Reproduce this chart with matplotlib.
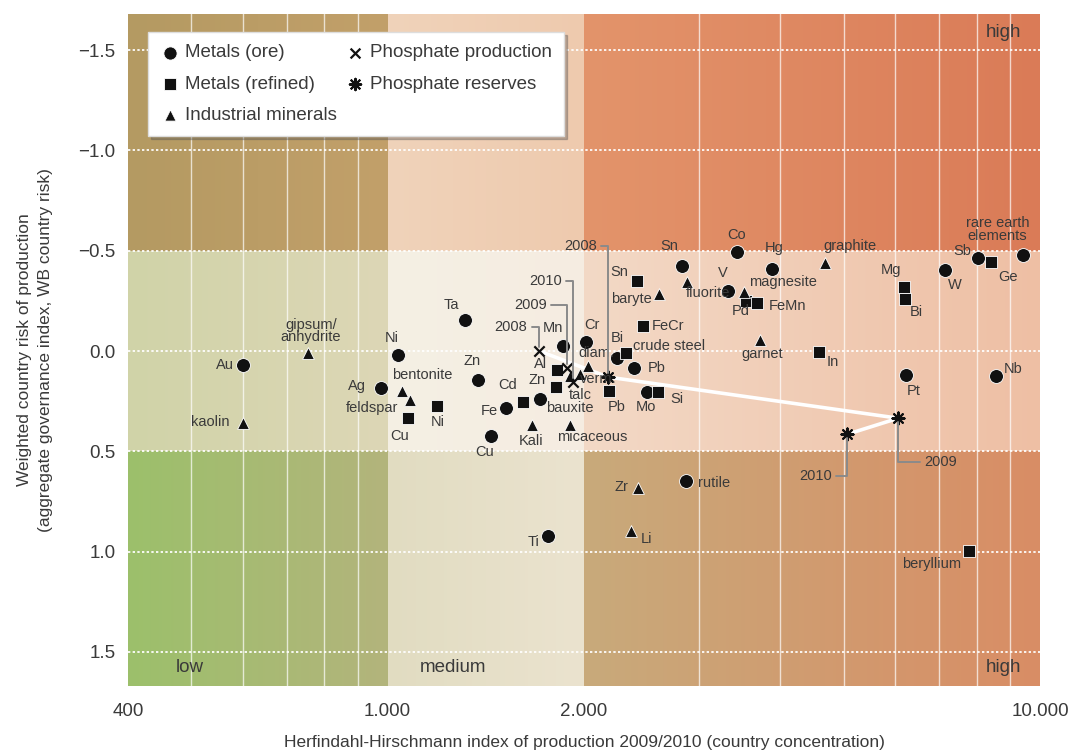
import numpy as np
import matplotlib
matplotlib.use("Agg")
import matplotlib.pyplot as plt
from matplotlib.ticker import NullLocator

plt.rcParams['font.family'] = ['Liberation Sans', 'DejaVu Sans']

# ---- data ----
ore_names = ["Au", "Ni", "Ag", "Ta", "Zn", "Fe", "Cu", "bauxite", "Mn", "Cr", "Bi", "Pb",
             "Mo", "Sn", "Co", "Hg", "V", "Sb", "W", "rare earth\nelements", "Pt", "Nb",
             "rutile", "Ti"]
ore_hhi = [600, 1038, 977, 1315, 1376, 1519, 1441, 1713, 1858, 2015, 2248, 2388,
           2500, 2828, 3434, 3886, 3327, 8043, 7159, 9426, 6237, 8568, 2868, 1762]
ore_risk = [0.07, 0.02, 0.185, -0.155, 0.145, 0.285, 0.425, 0.24, -0.025, -0.045, 0.035, 0.085,
            0.205, -0.425, -0.495, -0.41, -0.30, -0.465, -0.405, -0.48, 0.12, 0.125, 0.65, 0.92]

ref_names = ["Cu", "Ni", "Cd", "Zn", "Al", "Sn", "FeCr", "crude steel", "Pb", "Si", "Pd",
             "FeMn", "In", "Mg", "Bi", "Ge", "beryllium"]
ref_hhi = [1075, 1191, 1613, 1813, 1819, 2413, 2465, 2320, 2186, 2598, 3545,
           3686, 4587, 6193, 6215, 8419, 7789]
ref_risk = [0.335, 0.275, 0.255, 0.18, 0.095, -0.35, -0.125, 0.01, 0.20, 0.205, -0.25,
            -0.24, 0.005, -0.32, -0.26, -0.445, 0.995]

ind_names = ["kaolin", "gipsum/\nanhydrite", "bentonite", "feldspar", "diam.", "verm.", "talc",
             "Kali", "micaceous", "baryte", "fluorite", "magnesite", "graphite", "garnet",
             "Zr", "Li"]
ind_hhi = [600, 755, 1052, 1082, 2030, 1973, 1905, 1665, 1905, 2608, 2879, 3521, 4686, 3725,
           2421, 2362]
ind_risk = [0.36, 0.01, 0.20, 0.245, 0.075, 0.115, 0.125, 0.37, 0.37, -0.285, -0.345, -0.295,
            -0.44, -0.055, 0.685, 0.895]

phos_years = ["2008", "2009", "2010"]
prod_hhi = [1707, 1885, 1925]
prod_risk = [0.0, 0.085, 0.155]
res_hhi = [2178, 6063, 5064]
res_risk = [0.13, 0.335, 0.415]

# ---- label placement (offset pixels from the marker) ----
ore_offsets = [(-18, 0), (-6, 17), (-24, 2), (-14, 15), (-6, 19), (-17, -3), (-6, -16), (30, -9),
               (-10, 18), (6, 17), (0, 20), (22, 0), (-1, -15), (-13, 20), (-1, 17), (2, 21),
               (-5, 18), (-16, 7), (10, -15), (-26, 25), (7, -16), (17, 7), (28, -2), (-15, -6)]
ref_offsets = [(-8, -18), (1, -16), (-15, 17), (-19, 7), (-17, 6), (-18, 9), (25, 0), (43, 7),
               (7, -16), (19, -7), (-5, -10), (30, -3), (14, -10), (-13, 17), (11, -13),
               (17, -15), (-38, -13)]
ind_offsets = [(-33, 1), (3, 22), (20, 16), (-38, -8), (8, 13), (18, -5), (10, -19), (-1, -16),
               (22, -12), (-28, -5), (21, -11), (39, 10), (25, 17), (2, -14), (-17, 1), (15, -8)]
prod_offsets = [(-28, 24), (-37, 63), (-28, 101)]
res_offsets = [(-28, 131), (42, -44), (-32, -42)]

x_lo, x_hi = 400, 10000
y_top, y_bot = -1.68, 1.67

# zone colours, left edge -> right edge of each zone  (rows: high risk, mid, low risk)
zone_cols = [
    [("#b49a62", "#c2a06a"), ("#f0d3ba", "#eecaae"), ("#e3946b", "#da7b57")],
    [("#d0d3a8", "#ddd7b6"), ("#f4f0e4", "#f6ece1"), ("#f3d9c6", "#eebfa4")],
    [("#9cc06b", "#b3b47c"), ("#e1dcc1", "#ebe3cf"), ("#c8aa7b", "#d98d65")],
]


def hex2rgb(h):
    return np.array([int(h[i:i + 2], 16) for i in (1, 3, 5)]) / 255.0


def background():
    W, H = 912, 672
    lg = np.log10
    u = (np.arange(W) + 0.5) / W
    yv = y_top + (np.arange(H) + 0.5) / H * (y_bot - y_top)
    ub = [0, (lg(1000) - lg(x_lo)) / (lg(x_hi) - lg(x_lo)),
          (lg(2000) - lg(x_lo)) / (lg(x_hi) - lg(x_lo)), 1]
    img = np.zeros((H, W, 3))
    for r in range(3):
        rows = (yv < -0.5) if r == 0 else ((yv >= -0.5) & (yv <= 0.5) if r == 1 else (yv > 0.5))
        for c in range(3):
            cols = (u >= ub[c]) & (u < ub[c + 1]) if c < 2 else (u >= ub[c])
            t = (u[cols] - ub[c]) / (ub[c + 1] - ub[c])
            a, b = hex2rgb(zone_cols[r][c][0]), hex2rgb(zone_cols[r][c][1])
            strip = a[None, :] * (1 - t[:, None]) + b[None, :] * t[:, None]
            img[np.ix_(rows, cols)] = strip[None, :, :]
    return img


fig = plt.figure(figsize=(10.72, 7.55), dpi=100)
ax = fig.add_axes([128 / 1072, 69 / 755, 912 / 1072, 672 / 755])
ax.set_xscale('log')
ax.set_xlim(x_lo, x_hi)
ax.set_ylim(y_bot, y_top)

ax.imshow(background(), extent=[0, 1, 0, 1], transform=ax.transAxes, aspect='auto',
          zorder=0, interpolation='bilinear')

for v in [500, 600, 700, 800, 900, 3000, 4000, 5000, 6000, 7000, 8000, 9000]:
    ax.axvline(v, color='white', lw=1.0, alpha=0.7, zorder=1)
for v in [-1.5, -1.0, -0.5, 0.0, 0.5, 1.0, 1.5]:
    ax.axhline(v, color='white', lw=1.4, ls=(0, (1.2, 1.2)), alpha=0.9, zorder=1)

txt = '#3a3a3a'
# phosphate trajectory
ax.plot([prod_hhi[0]] + res_hhi, [prod_risk[0]] + res_risk, color='white', lw=2.6,
        zorder=2, solid_capstyle='round')

ax.scatter(ore_hhi, ore_risk, marker='o', s=100, c='#111111', edgecolors='white',
           linewidths=0.6, zorder=4, label='Metals (ore)')
ax.scatter(ref_hhi, ref_risk, marker='s', s=76, c='#111111', edgecolors='white',
           linewidths=0.6, zorder=4, label='Metals (refined)')
ax.scatter(ind_hhi, ind_risk, marker='^', s=72, c='#111111', edgecolors='white',
           linewidths=0.6, zorder=4, label='Industrial minerals')
ax.scatter(prod_hhi, prod_risk, marker='x', s=55, c='#111111', linewidths=1.6, zorder=5,
           label='Phosphate production')
ax.scatter(res_hhi, res_risk, marker=(8, 2, 0), s=75, c='#111111', linewidths=1.5, zorder=5,
           label='Phosphate reserves')

for names, xs, ys, offs in [(ore_names, ore_hhi, ore_risk, ore_offsets),
                            (ref_names, ref_hhi, ref_risk, ref_offsets),
                            (ind_names, ind_hhi, ind_risk, ind_offsets)]:
    for n, xv, yv, (dx, dy) in zip(names, xs, ys, offs):
        ax.annotate(n, (xv, yv), xytext=(dx, dy), textcoords='offset pixels', ha='center',
                    va='center', fontsize=10.5, color=txt, zorder=6, linespacing=0.9)

for xs, ys, offs in [(prod_hhi, prod_risk, prod_offsets), (res_hhi, res_risk, res_offsets)]:
    for yr, xv, yv, (dx, dy) in zip(phos_years, xs, ys, offs):
        ax.annotate(yr, (xv, yv), xytext=(dx, dy), textcoords='offset pixels', ha='center',
                    va='center', fontsize=10.5, color=txt, zorder=6,
                    arrowprops=dict(arrowstyle='-', color='#8a8a8a', lw=1.4, shrinkA=1, shrinkB=3,
                                    connectionstyle='angle,angleA=0,angleB=90,rad=0'))

ax.text(0.068, 0.027, 'low', transform=ax.transAxes, ha='center', va='center', fontsize=13.5, color=txt)
ax.text(0.356, 0.027, 'medium', transform=ax.transAxes, ha='center', va='center', fontsize=13.5, color=txt)
ax.text(0.960, 0.027, 'high', transform=ax.transAxes, ha='center', va='center', fontsize=13.5, color=txt)
ax.text(0.960, 0.973, 'high', transform=ax.transAxes, ha='center', va='center', fontsize=13.5, color=txt)

ax.set_xticks([400, 1000, 2000, 10000])
ax.set_xticklabels(['400', '1.000', '2.000', '10.000'])
ax.xaxis.set_minor_locator(NullLocator())
ax.set_yticks([-1.5, -1.0, -0.5, 0.0, 0.5, 1.0, 1.5])
ax.set_yticklabels(['\u22121.5', '\u22121.0', '\u22120.5', '0.0', '0.5', '1.0', '1.5'])
ax.tick_params(axis='both', length=0, labelsize=13.5, colors=txt)
ax.tick_params(axis='x', pad=12)
ax.tick_params(axis='y', pad=9)
for s in ax.spines.values():
    s.set_visible(False)

ax.set_xlabel('Herfindahl-Hirschmann index of production 2009/2010 (country concentration)',
              fontsize=12.5, color=txt, labelpad=11)
fig.text(35 / 1072, 1 - 350 / 755,
         'Weighted country risk of production\n(aggregate governance index, WB country risk)',
         rotation=90, ha='center', va='center', fontsize=12.5, color=txt, multialignment='center',
         linespacing=1.5)

leg = ax.legend(loc='upper left', bbox_to_anchor=(0.022, 0.973), ncol=2, frameon=True,
                fancybox=False, shadow={'color': '#555555', 'alpha': 0.35}, fontsize=13.5,
                labelspacing=0.75, handlelength=1.0, handletextpad=0.3, columnspacing=0.5,
                borderpad=0.65, borderaxespad=0, markerscale=0.95)
leg.get_frame().set_facecolor('white')
leg.get_frame().set_edgecolor('#dddddd')
leg.get_frame().set_alpha(1)
for t in leg.get_texts():
    t.set_color(txt)

fig.savefig('out.png', dpi=100)
